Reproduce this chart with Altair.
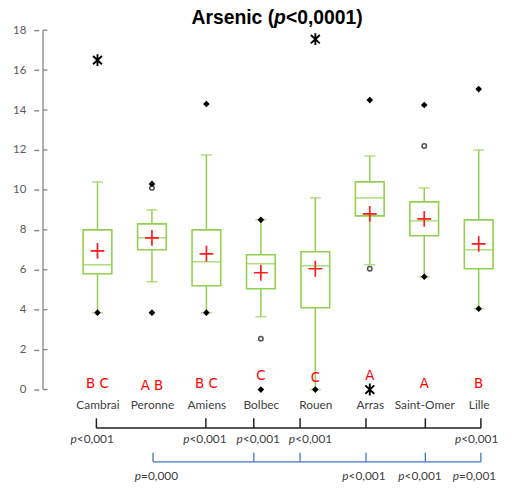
import json
import altair as alt
import pandas as pd

# ---------------- data ----------------
cats = ["Cambrai", "Peronne", "Amiens", "Bolbec", "Rouen", "Arras", "Saint-Omer", "Lille"]
w_low = [3.85, 5.4, 3.85, 3.65, 0.0, 6.25, 5.65, 4.05]
q1 = [5.8, 7.0, 5.2, 5.05, 4.1, 8.7, 7.7, 6.05]
median = [6.25, 7.6, 6.4, 6.3, 6.2, 9.6, 8.45, 7.0]
q3 = [8.0, 8.3, 8.0, 6.75, 6.9, 10.4, 9.4, 8.5]
w_high = [10.4, 9.0, 11.75, 8.5, 9.6, 11.7, 10.1, 12.0]
means = [6.95, 7.6, 6.8, 5.85, 6.05, 8.8, 8.55, 7.3]
letters = ["B C", "A B", "B C", "C", "C", "A", "A", "B"]
letter_y = [0.3, 0.2, 0.3, 0.7, 0.6, 0.7, 0.3, 0.3]

# individual points: category index, value, kind
pt_idx = [0, 0, 1, 1, 1, 2, 2, 3, 3, 3, 4, 4, 5, 5, 5, 6, 6, 6, 7, 7]
pt_val = [3.85, 16.5, 3.85, 10.3, 10.1, 3.85, 14.3, 8.5, 2.55, 0.0, 0.0, 17.55,
          6.05, 14.5, 0.0, 5.65, 12.2, 14.25, 4.05, 15.05]
pt_kind = ["d", "a", "d", "d", "c", "d", "d", "d", "c", "d", "d", "a",
           "c", "d", "a", "d", "c", "d", "d", "d"]

y_ticks = [0, 2, 4, 6, 8, 10, 12, 14, 16, 18]

# comparison brackets (positions in category units) and their p-values
black_ticks = [-0.02, 1.99, 2.87, 3.72, 4.93, 6.02, 7.04]
blue_ticks = [1.02, 2.87, 3.72, 4.93, 6.02, 7.04]
black_p_x = [-0.09, 1.98, 2.96, 3.92, 6.97]
black_p_txt = ["<0,001", "<0,001", "<0,001", "<0,001", "<0,001"]
blue_p_x = [1.09, 4.90, 5.93, 6.93]
blue_p_txt = ["=0,000", "<0,001", "<0,001", "=0,001"]

title_parts = ["Arsenic (", "p", "<0,0001)"]

# ---------------- layout ----------------
W, H = 502, 477
PXU = 56.125            # px per category unit
PYU = 20.1667           # px per y unit
XMIN = -1 - 31 / PXU
XMAX = XMIN + W / PXU
YMAX = 18 + 20 / PYU
YMIN = -(H - 383) / PYU

GREEN = "#92D050"
RED = "#FF1E1E"
TXT = "#404040"
BLUE = "#4472C4"

xs = alt.Scale(domain=[XMIN, XMAX], nice=False, zero=False)
ys = alt.Scale(domain=[YMIN, YMAX], nice=False, zero=False)

label_expr = "%s[datum.value]" % json.dumps(cats)
xaxis = alt.Axis(values=list(range(len(cats))), labelExpr=label_expr, orient="bottom",
                 offset=-87, domain=False, ticks=False, grid=False, labelPadding=3,
                 labelFont="Lato", labelFontSize=12, labelColor=TXT, title=None,
                 labelOverlap=False, labelFlush=False)
yaxis = alt.Axis(values=y_ticks, orient="left", offset=-31, domain=False, ticks=True,
                 tickSize=5, tickColor="#808080", tickWidth=1.3, labelPadding=8,
                 labelFont="Lato", labelFontSize=11.5, labelColor="#595959",
                 grid=False, title=None)


def X(f):
    return alt.X(f, type="quantitative", scale=xs, axis=xaxis)


def Y(f):
    return alt.Y(f, type="quantitative", scale=ys, axis=yaxis)


def XD(v):
    return alt.X(datum=v, scale=xs, axis=xaxis)


def YD(v):
    return alt.Y(datum=v, scale=ys, axis=yaxis)


box_df = pd.DataFrame(dict(cat=cats, idx=list(range(len(cats))), low=w_low, q1=q1,
                           med=median, q3=q3, high=w_high, mean=means,
                           letter=letters, ly=letter_y))
pts_df = pd.DataFrame(dict(idx=pt_idx, v=pt_val, kind=pt_kind))
tick_df = pd.DataFrame(dict(v=y_ticks))

whisk = alt.Chart(box_df).mark_rule(color=GREEN, strokeWidth=1.5).encode(
    x=X("idx"), y=Y("low"), y2="high")
box = alt.Chart(box_df).mark_bar(size=29, fill="white", stroke=GREEN, strokeWidth=1.6).encode(
    x=X("idx"), y=Y("q1"), y2="q3")
caps = alt.Chart(box_df).transform_fold(["low", "high"], as_=["k", "v"]).mark_tick(
    orient="horizontal", size=11, thickness=1.5, color=GREEN).encode(x=X("idx"), y=Y("v"))
med = alt.Chart(box_df).mark_tick(orient="horizontal", size=29, thickness=1.6, color=GREEN).encode(
    x=X("idx"), y=Y("med"))
meanc = alt.Chart(box_df).mark_point(shape="M-0.875,0H0.875M0,-1V1", size=256, filled=False,
                                     color=RED, strokeWidth=1.7, opacity=1).encode(
    x=X("idx"), y=Y("mean"))

circ = alt.Chart(pts_df).transform_filter("datum.kind == 'c'").mark_point(
    shape="circle", size=20, filled=False, color="#505050", strokeWidth=1.5, opacity=1).encode(
    x=X("idx"), y=Y("v"))
diam = alt.Chart(pts_df).transform_filter("datum.kind == 'd'").mark_point(
    shape="diamond", size=45, filled=True, color="black", opacity=1).encode(
    x=X("idx"), y=Y("v"))
aster = alt.Chart(pts_df).transform_filter("datum.kind == 'a'").mark_point(
    shape="M0,-1V1M-0.75,-0.7L0.75,0.7M-0.75,0.7L0.75,-0.7", size=144, filled=False,
    color="black", strokeWidth=1.9, opacity=1).encode(x=X("idx"), y=Y("v"))

axis_line = alt.Chart(pd.DataFrame(dict(a=[0], b=[18]))).mark_rule(
    color="#808080", strokeWidth=1.3).encode(x=XD(-1), y=Y("a"), y2="b")
tick_right = alt.Chart(tick_df).mark_rule(color="#808080", strokeWidth=1.3).encode(
    x=XD(-1), x2=alt.X2(datum=-0.92), y=Y("v"))

let_txt = alt.Chart(box_df).mark_text(font="DejaVu Sans", fontSize=13.5, color="#FF0000",
                                      baseline="middle").encode(
    x=X("idx"), y=Y("ly"), text="letter:N")

# title with an italic p
t_y = 18.6
t_j = (277 - 95) / PXU
TFS = 19.5
title1 = alt.Chart(pd.DataFrame(dict(t=[title_parts[0]]))).mark_text(
    font="Liberation Sans", fontWeight="bold", fontSize=TFS, align="right", baseline="middle",
    color="black").encode(x=XD(t_j), y=YD(t_y), text="t:N")
title2 = alt.Chart(pd.DataFrame(dict(t=[title_parts[1]]))).mark_text(
    font="Liberation Sans", fontWeight="bold", fontStyle="italic", fontSize=TFS, align="left",
    baseline="middle", color="black").encode(x=XD(t_j), y=YD(t_y), text="t:N")
title3 = alt.Chart(pd.DataFrame(dict(t=[title_parts[2]]))).mark_text(
    font="Liberation Sans", fontWeight="bold", fontSize=TFS, align="left", baseline="middle",
    dx=12, color="black").encode(x=XD(t_j), y=YD(t_y), text="t:N")

# brackets
BL_Y, BL_TOP = -1.93, -1.44
BU_Y, BU_TOP = -3.62, -3.17
bl_line = alt.Chart(pd.DataFrame(dict(a=[min(black_ticks)], b=[max(black_ticks)]))).mark_rule(
    color="#202020", strokeWidth=1.5).encode(x=X("a"), x2="b", y=YD(BL_Y))
bl_ticks = alt.Chart(pd.DataFrame(dict(x=black_ticks))).mark_rule(
    color="#202020", strokeWidth=1.5).encode(x=X("x"), y=YD(BL_TOP), y2=alt.Y2(datum=BL_Y))
bu_line = alt.Chart(pd.DataFrame(dict(a=[min(blue_ticks)], b=[max(blue_ticks)]))).mark_rule(
    color=BLUE, strokeWidth=1.3).encode(x=X("a"), x2="b", y=YD(BU_Y))
bu_ticks = alt.Chart(pd.DataFrame(dict(x=blue_ticks))).mark_rule(
    color=BLUE, strokeWidth=1.3).encode(x=X("x"), y=YD(BU_TOP), y2=alt.Y2(datum=BU_Y))


def plabels(xs_, txt, yv):
    df = pd.DataFrame(dict(x=xs_, t=txt, p=["p"] * len(xs_)))
    a = alt.Chart(df).mark_text(font="Lato", fontStyle="italic", fontSize=12, align="right",
                                baseline="middle", dx=-16, color=TXT).encode(
        x=X("x"), y=YD(yv), text="p:N")
    b = alt.Chart(df).mark_text(font="Lato", fontSize=12, align="left", baseline="middle",
                                dx=-16, color=TXT).encode(x=X("x"), y=YD(yv), text="t:N")
    return [a, b]


layers = [whisk, box, med, caps, meanc, circ, diam, aster, axis_line, tick_right,
          let_txt, title1, title2, title3, bl_line, bl_ticks, bu_line, bu_ticks]
layers += plabels(black_p_x, black_p_txt, -2.48)
layers += plabels(blue_p_x, blue_p_txt, -4.31)

chart = alt.layer(*layers).properties(
    width=W, height=H, autosize=alt.AutoSizeParams(type="none"), padding=0,
    background="white").configure_view(stroke=None)

chart.save("out.html", embed_options={"renderer": "svg", "actions": False})
